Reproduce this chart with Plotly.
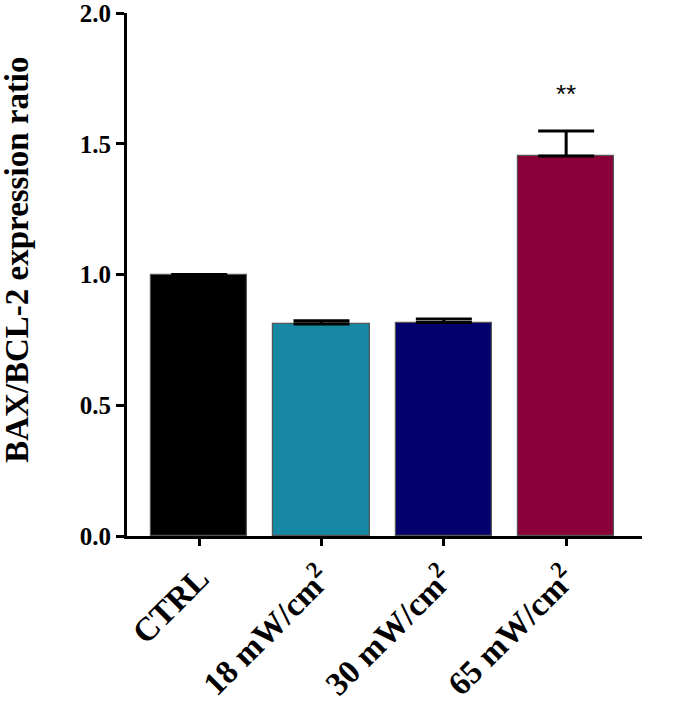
import plotly.graph_objects as go

categories = ["CTRL", "18 mW/cm<sup>2</sup>", "30 mW/cm<sup>2</sup>", "65 mW/cm<sup>2</sup>"]
values = [1.0, 0.811, 0.816, 1.453]
errors = [None, 0.012, 0.014, 0.096]
colors = ["#000000", "#1788A3", "#03006E", "#8A0039"]
y_ticks = [0.0, 0.5, 1.0, 1.5, 2.0]
y_tick_labels = ["0.0", "0.5", "1.0", "1.5", "2.0"]
sig_labels = ["", "", "", "**"]
y_title = "BAX/BCL-2 expression ratio"

fig = go.Figure()
fig.add_trace(go.Bar(
    x=list(range(len(categories))),
    y=values,
    width=0.79,
    marker=dict(color=colors, line=dict(color="#555555", width=1.2)),
    error_y=dict(type="data", array=errors, arrayminus=[0]*len(errors), symmetric=False,
                 color="black", thickness=3, width=28, visible=True),
))

for i, s in enumerate(sig_labels):
    if s:
        fig.add_annotation(x=i, y=values[i] + (errors[i] or 0) + 0.14, text=s, showarrow=False,
                           font=dict(family="Liberation Sans", size=26, color="black"))

fig.add_annotation(xref="paper", yref="paper", x=-0.2136, y=0.528, text=f"<b>{y_title}</b>",
                   textangle=-90, showarrow=False, xanchor="center", yanchor="middle",
                   font=dict(family="Liberation Serif", size=33, color="black"))

fig.update_layout(
    width=685, height=705,
    margin=dict(l=127, r=43, t=13, b=169, autoexpand=False),
    plot_bgcolor="white", paper_bgcolor="white",
    showlegend=False,
    font=dict(family="Liberation Serif", color="black"),
    bargap=0,
)
fig.update_xaxes(
    range=[-0.59, 3.62],
    tickvals=list(range(len(categories))),
    ticktext=[f"<b>{c}</b>" for c in categories],
    tickangle=-45,
    ticks="outside", ticklen=7, tickwidth=3, tickcolor="black",
    showline=True, linewidth=3, linecolor="black",
    showgrid=False, zeroline=False, automargin=False,
    tickfont=dict(family="Liberation Serif", size=33, color="black"),
    ticklabeloverflow="allow",
)
fig.update_yaxes(
    range=[0, 2.0],
    tickvals=y_ticks,
    ticktext=[f"<b>{t}</b>" for t in y_tick_labels],
    ticks="outside", ticklen=8, tickwidth=3, tickcolor="black",
    showline=True, linewidth=3, linecolor="black",
    showgrid=False, zeroline=False, automargin=False,
    tickfont=dict(family="Liberation Serif", size=25, color="black"),
    ticklabeloverflow="allow",
)

fig.write_html("out.html", config={"displayModeBar": False},
               post_script="document.body.style.margin='0';document.body.style.overflow='hidden';")
